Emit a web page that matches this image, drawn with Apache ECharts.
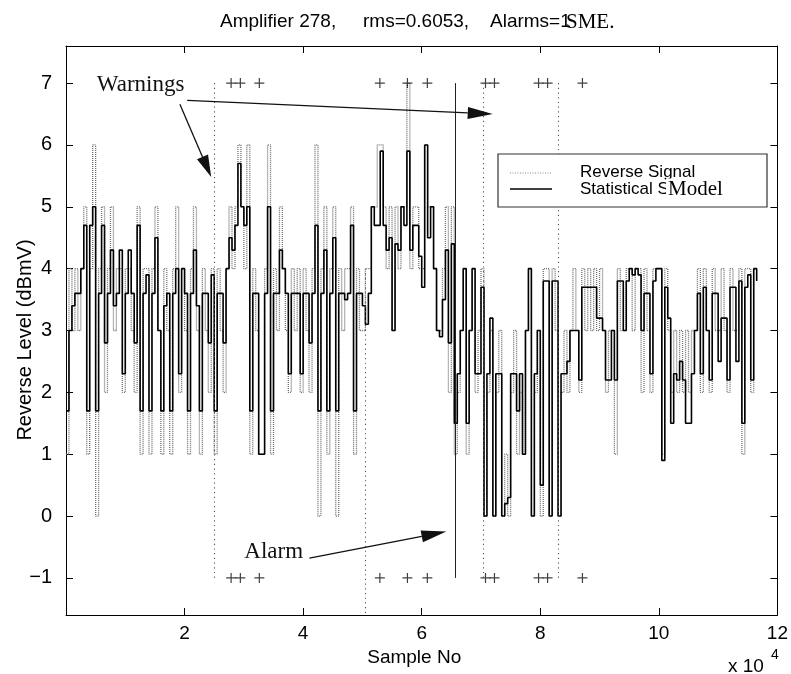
<!DOCTYPE html>
<html>
<head>
<meta charset="utf-8">
<script src="https://cdn.jsdelivr.net/npm/echarts@6/dist/echarts.min.js"></script>
<style>
  html, body { margin: 0; padding: 0; background: #ffffff; }
  #chart { width: 791px; height: 674px; }
</style>
</head>
<body>
<div id="chart"></div>
<script>
// Samples are taken every SAMPLE_STEP units, starting at sample 0.
const SAMPLE_STEP = 500;

// Measured reverse-path level (dBmV), one value per sample block.
const reverseSignal = [
  1,4,3,4,3,4,5,1,4,6,
  0,4,5,2,4,5,3,4,4,2,
  4,4,3,2,5,1,4,4,1,4,
  5,3,1,4,3,1,4,5,2,4,
  3,1,4,5,3,1,4,3,2,4,
  1,4,3,2,4,5,4,5,6,5,
  4,6,1,4,3,1,1,4,6,1,
  4,3,5,4,3,2,4,3,4,2,
  4,3,2,4,6,0,4,5,1,4,
  5,0,4,3,4,4,5,1,4,3,
  3,4,4,5,5,6,6,5,4,5,
  3,5,4,5,5,7,4,5,5,4,
  4,6,5,5,4,3,3,4,5,2,
  5,1,2,3,4,1,3,4,2,3,
  4,0,2,3,0,2,3,0,1,0,
  2,3,1,2,1,3,4,0,2,3,
  0,4,4,0,4,3,0,2,3,2,
  3,4,3,2,4,3,4,3,4,3,
  4,3,2,3,3,1,4,3,3,4,
  4,3,4,4,2,4,3,2,4,4,
  4,1,4,3,2,3,2,3,2,3,
  2,3,3,4,2,4,3,2,4,3,
  3,4,3,2,4,3,3,4,1,4,
  4,2,4,4
];

// Output of the statistical model for the same sample blocks.
const statisticalModel = [
  1.7,3.0,3.4,3.6,3.6,4.0,4.7,1.7,4.7,5.0,
  1.7,3.6,4.7,2.8,3.6,4.3,3.4,3.6,4.3,2.3,
  3.6,4.3,3.6,2.8,4.7,1.7,3.6,3.9,1.7,3.6,
  4.5,3.0,1.7,3.4,3.6,1.7,3.6,4.0,2.3,4.0,
  3.6,1.7,3.6,4.3,3.4,1.7,3.6,3.6,2.8,3.9,
  1.7,3.6,3.6,2.8,4.0,4.5,4.3,4.7,5.7,5.0,
  4.7,5.0,1.7,3.6,3.6,1.0,1.0,3.6,5.0,1.7,
  3.6,3.6,4.3,4.0,3.6,2.3,3.6,3.6,3.6,2.3,
  3.6,3.6,2.8,3.6,4.7,1.7,3.6,4.3,1.7,3.6,
  4.5,1.7,3.6,3.6,3.5,3.6,4.7,1.7,3.6,3.6,
  3.4,3.1,3.6,5.0,4.7,4.7,5.9,4.7,4.3,4.5,
  3.0,4.4,4.3,5.0,4.7,5.9,4.3,4.7,4.7,4.2,
  3.7,6.0,4.5,5.0,4.0,3.0,2.9,3.5,4.3,2.8,
  4.4,1.5,2.3,3.0,4.0,1.5,3.0,4.0,2.3,2.3,
  3.7,0.0,2.3,3.2,0.0,2.3,2.3,0.0,0.2,0.3,
  2.3,2.3,1.7,2.3,1.0,3.0,4.0,0.0,2.3,3.0,
  0.5,3.8,3.8,0.0,3.8,3.8,0.0,2.3,2.3,2.5,
  3.0,3.0,3.0,2.2,3.7,3.7,3.7,3.7,3.7,3.2,
  3.2,3.0,2.2,2.2,3.0,2.2,3.8,3.8,3.0,3.8,
  4.0,3.9,4.0,3.9,3.0,3.6,3.6,2.3,3.8,4.0,
  4.0,0.9,3.7,3.2,1.5,2.3,2.2,2.5,2.2,1.5,
  1.5,2.3,3.0,3.6,2.3,3.7,3.0,2.2,3.6,3.6,
  2.5,3.2,3.2,2.2,3.7,3.7,2.5,3.8,1.5,3.7,
  3.9,2.2,4.0,3.8
];

// Samples flagged as warnings (plotted at both warning levels).
const warningSamples = [27850, 29410, 32610, 52940, 57590, 60950, 70760, 72270, 79710, 81230, 87110];
const warningLevels = [7, -1];

// Vertical event markers: [sample, top level, bottom level]
const warningMarkers = [[25000, 7, -1], [70400, 7, -1], [83000, 7, -1], [50400, 4, -1.6]];
const alarmMarker = [65700, 7, -1];

// Axis ticks
const xTicks = [20000, 40000, 60000, 80000, 100000, 120000];
const xTopTicks = [20000, 40000, 60000, 80000, 100000];
const yTicks = [-1, 0, 1, 2, 3, 4, 5, 6, 7];

const SANS = '"Liberation Sans", Arial, Helvetica, sans-serif';
const SERIF = '"Liberation Serif", "Times New Roman", Times, serif';

const toPoints = arr => arr.map((v, i) => [i * SAMPLE_STEP, v]);
const warningPoints = [];
warningLevels.forEach(lv => warningSamples.forEach(s => warningPoints.push([s, lv])));

const markData = warningMarkers.map(m => [
  { coord: [m[0], m[1]], lineStyle: { type: [1.2, 3.5], color: '#555', width: 1.1 } },
  { coord: [m[0], m[2]] }
]);
markData.push([
  { coord: [alarmMarker[0], alarmMarker[1]], lineStyle: { type: 'solid', color: '#222', width: 1 } },
  { coord: [alarmMarker[0], alarmMarker[2]] }
]);

const frameAxis = { onZero: false, lineStyle: { color: '#000', width: 1 } };
const tickStyle = { color: '#000', width: 1 };

const chart = echarts.init(document.getElementById('chart'), null, { renderer: 'canvas' });

chart.setOption({
  animation: false,
  backgroundColor: '#ffffff',
  grid: { left: 66, right: 13, top: 46, bottom: 59 },
  xAxis: [
    {
      type: 'value', min: 0, max: 120000, position: 'bottom',
      axisLine: frameAxis,
      axisTick: { inside: true, length: 7, customValues: xTicks, lineStyle: tickStyle },
      axisLabel: {
        customValues: xTicks, margin: 9, color: '#000', fontFamily: SANS, fontSize: 19,
        formatter: v => String(v / 10000)
      },
      splitLine: { show: false },
      name: 'Sample No', nameLocation: 'middle', nameGap: 31,
      nameTextStyle: { color: '#000', fontFamily: SANS, fontSize: 19, padding: [0, 15, 0, 0] }
    },
    {
      type: 'value', min: 0, max: 120000, position: 'top',
      axisLine: frameAxis,
      axisTick: { inside: true, length: 7, customValues: xTopTicks, lineStyle: tickStyle },
      axisLabel: { show: false },
      splitLine: { show: false }
    }
  ],
  yAxis: [
    {
      type: 'value', min: -1.6, max: 7.6, position: 'left',
      axisLine: frameAxis,
      axisTick: { inside: true, length: 7, customValues: yTicks, lineStyle: tickStyle },
      axisLabel: {
        customValues: yTicks, margin: 14, color: '#000', fontFamily: SANS, fontSize: 20,
        formatter: v => String(v).replace('-', '\u2212')
      },
      splitLine: { show: false }
    },
    {
      type: 'value', min: -1.6, max: 7.6, position: 'right',
      axisLine: frameAxis,
      axisTick: { inside: true, length: 7, customValues: yTicks, lineStyle: tickStyle },
      axisLabel: { show: false },
      splitLine: { show: false }
    }
  ],
  series: [
    {
      name: 'Reverse Signal', type: 'line', step: 'end',
      data: toPoints(reverseSignal),
      symbol: 'none', clip: false, z: 2,
      lineStyle: { color: '#6e6e6e', width: 1.3, type: [1, 1] },
      markLine: {
        silent: true, symbol: ['none', 'none'], label: { show: false },
        data: markData
      }
    },
    {
      name: 'Statistical Model', type: 'line', step: 'end',
      data: toPoints(statisticalModel),
      symbol: 'none', z: 3,
      lineStyle: { color: '#000', width: 1.6 }
    },
    {
      name: 'Warnings', type: 'scatter',
      data: warningPoints,
      symbol: 'path://M0,4.4h10v1.2h-10zM4.4,0h1.2v10h-1.2z',
      symbolSize: 10, z: 4,
      itemStyle: { color: '#111' }
    }
  ]
});

// Annotations, anchored in data coordinates
const px = p => chart.convertToPixel({ seriesIndex: 0 }, p);

function arrow(from, to, headLen, headW) {
  const a = px(from), b = px(to);
  const dx = b[0] - a[0], dy = b[1] - a[1];
  const len = Math.hypot(dx, dy);
  const ux = dx / len, uy = dy / len;
  const bx = b[0] - ux * headLen, by = b[1] - uy * headLen;
  const nx = -uy * headW / 2, ny = ux * headW / 2;
  return [
    { type: 'line', z: 50, shape: { x1: a[0], y1: a[1], x2: bx, y2: by }, style: { stroke: '#111', lineWidth: 1.3 } },
    { type: 'polygon', z: 50, shape: { points: [[b[0], b[1]], [bx + nx, by + ny], [bx - nx, by - ny]] }, style: { fill: '#111' } }
  ];
}

const warnText = px([5200, 6.97]);
const alarmText = px([30080, -0.58]);

const graphic = [
  // title
  { type: 'text', z: 60, style: { text: 'Amplifier 278,', x: 220, y: 22, font: '19px ' + SANS, fill: '#000', textVerticalAlign: 'middle' } },
  { type: 'text', z: 60, style: { text: 'rms=0.6053,', x: 363, y: 22, font: '19px ' + SANS, fill: '#000', textVerticalAlign: 'middle' } },
  { type: 'text', z: 60, style: { text: 'Alarms=1', x: 490, y: 22, font: '19px ' + SANS, fill: '#000', textVerticalAlign: 'middle' } },
  { type: 'text', z: 61, style: { text: 'SME.', x: 566, y: 22, font: '21px ' + SERIF, fill: '#000', textVerticalAlign: 'middle' } },

  // y axis title
  { type: 'text', z: 60, x: 25, y: 340, rotation: Math.PI / 2,
    style: { text: 'Reverse Level (dBmV)', font: '20px ' + SANS, fill: '#000', textAlign: 'center', textVerticalAlign: 'middle' } },

  // axis exponent
  { type: 'text', z: 60, style: { text: 'x 10', x: 728, y: 667, font: '19px ' + SANS, fill: '#000', textVerticalAlign: 'middle' } },
  { type: 'text', z: 60, style: { text: '4', x: 771, y: 655, font: '14px ' + SANS, fill: '#000', textVerticalAlign: 'middle' } },

  // annotation labels
  { type: 'text', z: 60, style: { text: 'Warnings', x: warnText[0], y: warnText[1], font: '23px ' + SERIF, fill: '#111', textVerticalAlign: 'middle' } },
  { type: 'text', z: 60, style: { text: 'Alarm', x: alarmText[0], y: alarmText[1], font: '23px ' + SERIF, fill: '#111', textVerticalAlign: 'middle' } },

  // legend box
  { type: 'rect', z: 70, shape: { x: 498, y: 154, width: 269, height: 53 }, style: { fill: '#fff', stroke: '#333', lineWidth: 1.2 } },
  { type: 'line', z: 71, shape: { x1: 510, y1: 173, x2: 552, y2: 173 }, style: { stroke: '#8a8a8a', lineWidth: 1, lineDash: [1, 1.5] } },
  { type: 'line', z: 71, shape: { x1: 510, y1: 189, x2: 552, y2: 189 }, style: { stroke: '#000', lineWidth: 1.4 } },
  { type: 'text', z: 71, style: { text: 'Reverse Signal', x: 580, y: 172, font: '17px ' + SANS, fill: '#000', textVerticalAlign: 'middle' } },
  { type: 'text', z: 71, style: { text: 'Statistical S', x: 580, y: 189, font: '17px ' + SANS, fill: '#000', textVerticalAlign: 'middle' } },
  { type: 'text', z: 72, style: { text: 'Model', x: 666, y: 189, font: '21px ' + SERIF, fill: '#000', textVerticalAlign: 'middle',
      backgroundColor: '#fff', padding: [0, 0, 0, 2] } }
];

graphic.push(...arrow([19210, 6.66], [24490, 5.48], 22, 12));
graphic.push(...arrow([20450, 6.72], [71980, 6.50], 25, 12));
graphic.push(...arrow([41060, -0.68], [64150, -0.25], 25, 12));

chart.setOption({ graphic: graphic });
</script>
</body>
</html>
